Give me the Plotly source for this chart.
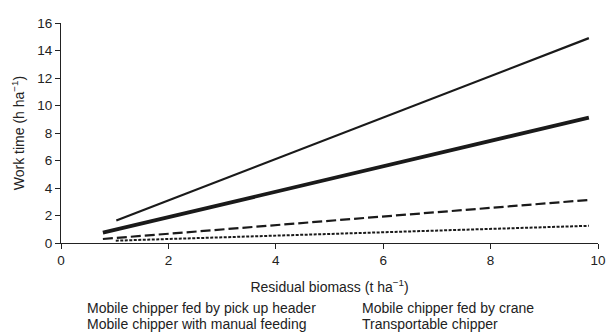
import plotly.graph_objects as go

series_names = [
    "Mobile chipper with manual feeding",
    "Mobile chipper fed by pick up header",
    "Mobile chipper fed by crane",
    "Transportable chipper",
]
x_start = [1.03, 0.78, 0.78, 1.02]
x_end = [9.83, 9.83, 9.83, 9.83]
y_start = [1.63, 0.75, 0.29, 0.17]
y_end = [14.9, 9.12, 3.13, 1.25]

styles = [
    dict(width=2.2, dash="solid"),
    dict(width=3.8, dash="solid"),
    dict(width=2.2, dash="10px,4px"),
    dict(width=2, dash="3px,1.5px"),
]

fig = go.Figure()
for name, xs, xe, ys, ye, st in zip(series_names, x_start, x_end, y_start, y_end, styles):
    fig.add_trace(go.Scatter(x=[xs, xe], y=[ys, ye], mode="lines", name=name,
                             line=dict(color="#1a1a1a", **st), showlegend=False))

font = dict(family="Liberation Sans, Arial, sans-serif", size=12, color="#222")
tickfont = dict(family="Liberation Sans, Arial, sans-serif", size=13.5, color="#222")
legfont = dict(family="Liberation Sans, Arial, sans-serif", size=14, color="#222")
fig.update_layout(
    width=606, height=328,
    margin=dict(l=53, r=8, t=14, b=93),
    paper_bgcolor="white", plot_bgcolor="white",
    font=font,
    xaxis=dict(range=[0, 10], tickvals=[0, 2, 4, 6, 8, 10], showline=True, linecolor="#222",
               linewidth=1, ticks="outside", ticklen=5, tickcolor="#222", showgrid=False,
               tickfont=tickfont,
               zeroline=False, title=dict(text="Residual biomass (t ha<sup>−1</sup>)", standoff=14)),
    yaxis=dict(range=[0, 16], tickvals=list(range(0, 17, 2)), showline=True, linecolor="#222",
               linewidth=1, ticks="outside", ticklen=5, tickcolor="#222", showgrid=False,
               tickfont=tickfont,
               zeroline=False, title=dict(text="Work time (h ha<sup>−1</sup>)", standoff=9)),
)

legend_order = [1, 2, 0, 3]
legend_pos = [(0.045, -0.297), (0.556, -0.297), (0.045, -0.369), (0.556, -0.369)]
for idx, (px, py) in zip(legend_order, legend_pos):
    fig.add_annotation(x=px, y=py, xref="paper", yref="paper", text=series_names[idx],
                       showarrow=False, xanchor="left", yanchor="middle", font=legfont)

fig.write_html("out.html")
